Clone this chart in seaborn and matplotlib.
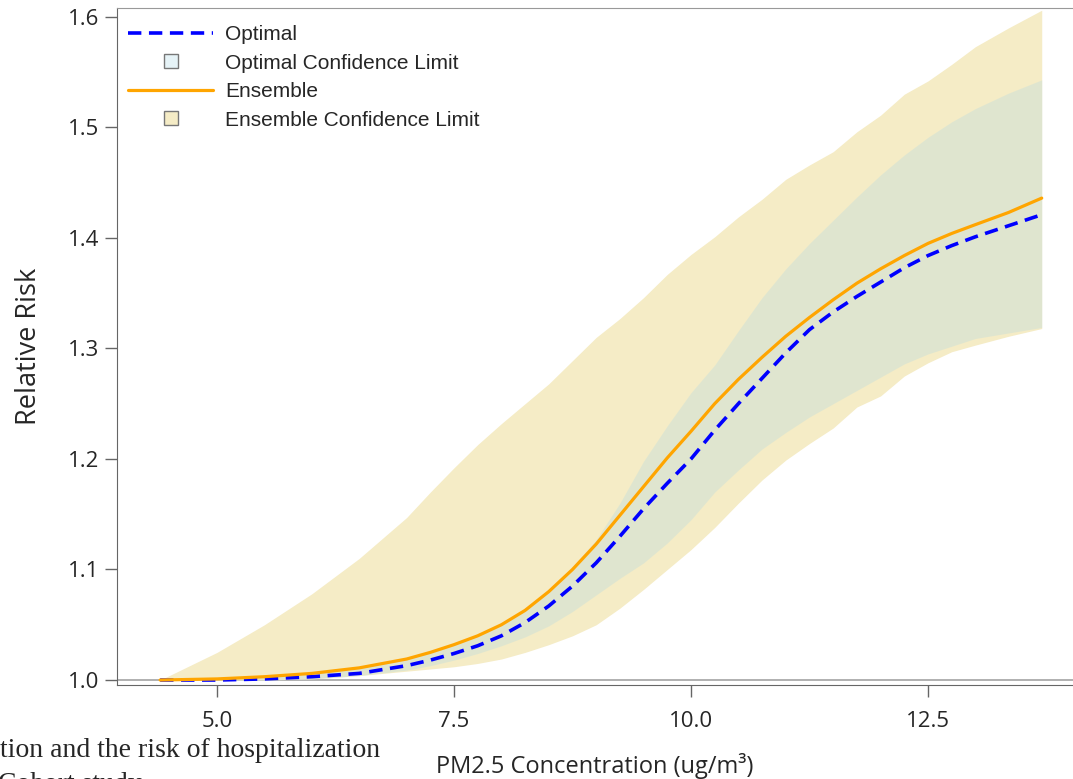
import numpy as np
import pandas as pd
import matplotlib
matplotlib.use('Agg')
import matplotlib.pyplot as plt
import seaborn as sns
from matplotlib.lines import Line2D
from matplotlib.colors import to_rgba

# PM2.5 grid (ug/m3) and curves
pm = [4.4, 5.0, 5.5, 6.0, 6.5, 7.0, 7.25, 7.5, 7.75, 8.0, 8.25, 8.5, 8.75, 9.0, 9.25, 9.5,
      9.75, 10.0, 10.25, 10.5, 10.75, 11.0, 11.25, 11.5, 11.75, 12.0, 12.25, 12.5, 12.75,
      13.0, 13.35, 13.7]

optimal = [1.000, 1.000, 1.001, 1.003, 1.006, 1.013, 1.018, 1.024, 1.031, 1.040, 1.052, 1.067,
           1.085, 1.106, 1.130, 1.155, 1.178, 1.200, 1.226, 1.250, 1.273, 1.296, 1.317, 1.333,
           1.347, 1.360, 1.373, 1.384, 1.393, 1.401, 1.411, 1.421]
optimal_lo = [1.000, 1.000, 1.000, 1.001, 1.004, 1.009, 1.013, 1.018, 1.024, 1.031, 1.039, 1.049,
              1.062, 1.077, 1.092, 1.106, 1.124, 1.145, 1.170, 1.190, 1.209, 1.224, 1.238, 1.250,
              1.262, 1.274, 1.286, 1.295, 1.302, 1.309, 1.314, 1.319]
optimal_hi = [1.000, 1.001, 1.003, 1.006, 1.011, 1.019, 1.025, 1.032, 1.041, 1.051, 1.064, 1.081,
              1.102, 1.127, 1.160, 1.198, 1.230, 1.260, 1.285, 1.316, 1.346, 1.372, 1.395, 1.416,
              1.437, 1.457, 1.475, 1.491, 1.505, 1.517, 1.531, 1.543]

ensemble = [1.000, 1.001, 1.003, 1.006, 1.011, 1.019, 1.025, 1.032, 1.040, 1.050, 1.063, 1.080,
            1.100, 1.123, 1.149, 1.175, 1.201, 1.225, 1.250, 1.272, 1.292, 1.311, 1.328, 1.344,
            1.359, 1.372, 1.384, 1.395, 1.404, 1.412, 1.423, 1.436]
ensemble_lo = [1.000, 1.000, 1.000, 1.001, 1.004, 1.008, 1.010, 1.012, 1.015, 1.019, 1.025, 1.032,
               1.040, 1.050, 1.065, 1.082, 1.100, 1.118, 1.138, 1.160, 1.181, 1.199, 1.214, 1.228,
               1.247, 1.257, 1.275, 1.287, 1.297, 1.303, 1.311, 1.318]
ensemble_hi = [1.000, 1.025, 1.050, 1.078, 1.110, 1.147, 1.170, 1.192, 1.213, 1.232, 1.250, 1.268,
               1.289, 1.310, 1.327, 1.346, 1.367, 1.385, 1.401, 1.419, 1.435, 1.453, 1.466, 1.478,
               1.496, 1.511, 1.530, 1.542, 1.557, 1.573, 1.590, 1.606]

x_ticks = [5.0, 7.5, 10.0, 12.5]
y_ticks = [1.0, 1.1, 1.2, 1.3, 1.4, 1.5, 1.6]

sns.set_style('ticks')
plt.rcParams['font.family'] = ['Open Sans', 'DejaVu Sans']

W, H = 1073, 779
fig = plt.figure(figsize=(W / 100, H / 100), dpi=100)
ax = fig.add_axes([117 / W, 1 - 685 / H, (W - 117) / W, (685 - 8) / H])

ens_col = '#F5ECC6'
opt_col = to_rgba('lightblue', 0.3)

ax.axhline(1.0, color='#aaaaaa', lw=1.3, zorder=0.5)
ax.fill_between(pm, ensemble_lo, ensemble_hi, color=ens_col, lw=0)
ax.fill_between(pm, optimal_lo, optimal_hi, color=opt_col, lw=0)
sns.lineplot(x=pm, y=optimal, color='blue', lw=2.6, linestyle=(0, (3.7, 2.1)), ax=ax)
sns.lineplot(x=pm, y=ensemble, color='orange', lw=2.3, ax=ax)

ax.set_xlim(3.945, 14.03)
ax.set_ylim(0.9955, 1.608)
ax.set_xticks(x_ticks)
ax.set_xticklabels(['5.0', '7.5', '10.0', '12.5'])
ax.set_yticks(y_ticks)
ax.set_yticklabels(['1.0', '1.1', '1.2', '1.3', '1.4', '1.5', '1.6'])

ax.spines['right'].set_visible(False)
ax.spines['top'].set_color('#999999')
ax.spines['left'].set_color('#666666')
ax.spines['bottom'].set_color('#666666')
ax.tick_params(direction='out', length=8.5, width=1, color='#666666', labelsize=16)
ax.tick_params(axis='x', pad=10)
ax.tick_params(axis='y', pad=4)

ax.set_xlabel('PM2.5 Concentration (ug/m³)', fontsize=17, va='top')
ax.xaxis.set_label_coords(0.5, -0.101)
ax.set_ylabel('Relative Risk', fontsize=19.5)
ax.yaxis.set_label_coords(-0.077, 0.5)

handles = [
    Line2D([], [], color='blue', lw=2.6, linestyle=(0, (3.7, 2.1))),
    Line2D([], [], linestyle='none', marker='s', markersize=10,
           markerfacecolor=opt_col, markeredgecolor='#777777', markeredgewidth=1),
    Line2D([], [], color='orange', lw=2.3),
    Line2D([], [], linestyle='none', marker='s', markersize=10,
           markerfacecolor=ens_col, markeredgecolor='#777777', markeredgewidth=1),
]
labels = ['Optimal', 'Optimal Confidence Limit', 'Ensemble', 'Ensemble Confidence Limit']
ax.legend(handles, labels, loc='upper left', bbox_to_anchor=(11 / 956, 1 - 17 / 677),
          frameon=False, prop={'family': 'Liberation Sans', 'size': 15},
          handlelength=4.08, handletextpad=0.58, labelspacing=0.46,
          borderpad=0, borderaxespad=0)

# page text from the paper behind the figure (cropped)
fig.text(0.0, (H - 757) / H, 'tion and the risk of hospitalization',
         family='Liberation Serif', fontsize=20, va='baseline', ha='left')
fig.text(-0.002, (H - 791) / H, 'Cohort study',
         family='Liberation Serif', fontsize=20, va='baseline', ha='left')

fig.savefig('out.png', dpi=100)
